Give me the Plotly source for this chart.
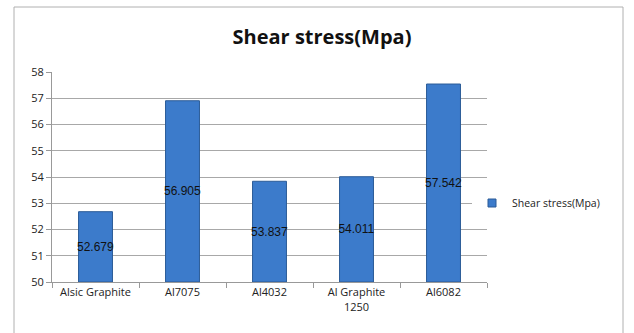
import plotly.graph_objects as go

categories = ["Alsic Graphite", "Al7075", "Al4032", "Al Graphite<br>1250", "Al6082"]
values = [52.679, 56.905, 53.837, 54.011, 57.542]
labels = ["52.679", "56.905", "53.837", "54.011", "57.542"]
series_name = "Shear stress(Mpa)"
y_ticks = [50, 51, 52, 53, 54, 55, 56, 57, 58]

W, H = 634, 333
L, R, T, B = 52, 147, 72, 51
pw, ph = W - L - R, H - T - B

fig = go.Figure()
fig.add_trace(go.Bar(
    x=categories, y=[v - 50 for v in values], base=50,
    name=series_name, text=labels, textposition="inside", textangle=0,
    insidetextanchor="middle",
    textfont=dict(family="Liberation Sans", size=12, color="#111111"),
    marker=dict(color="#3c7bcb", line=dict(color="#2b5b97", width=1)),
    width=0.39, showlegend=False,
))
# legend entry with small square swatch
fig.add_trace(go.Scatter(
    x=[categories[0]], y=[None], mode="markers", name=series_name,
    marker=dict(symbol="square", size=8, color="#3c7bcb",
                line=dict(color="#2b5b97", width=1)),
    showlegend=True, hoverinfo="skip",
))

fig.add_shape(type="rect", xref="paper", yref="paper",
              x0=(14 - L) / pw, x1=(623 - L) / pw,
              y0=(H - B - 340) / ph, y1=(H - B - 7) / ph,
              line=dict(color="#b0b0b0", width=1), layer="below")

fig.update_layout(
    width=W, height=H,
    margin=dict(l=L, r=R, t=T, b=B, autoexpand=False),
    paper_bgcolor="white", plot_bgcolor="white",
    uniformtext=dict(minsize=12, mode="show"),
    title=dict(text="<b>Shear stress(Mpa)</b>", x=(322) / W, xanchor="center",
               y=1 - 37 / H, yanchor="middle",
               font=dict(family="Open Sans", size=20, color="#111111")),
    font=dict(family="Open Sans", size=11, color="#222222"),
    legend=dict(x=(472 - L) / pw, y=(H - B - 203) / ph, xanchor="left", yanchor="middle",
                font=dict(family="Open Sans", size=10.5, color="#222222"),
                itemwidth=30, tracegroupgap=0),
    xaxis=dict(showline=True, linecolor="#999999", ticks="outside", ticklen=5,
               tickcolor="#999999", tickson="boundaries", showgrid=False,
               automargin=False,
               tickfont=dict(size=11, color="#222222")),
    yaxis=dict(range=[50, 58], tickvals=y_ticks, showline=True, linecolor="#999999",
               ticks="outside", ticklen=5, tickcolor="#999999",
               gridcolor="#a8a8a8", gridwidth=1, automargin=False,
               tickfont=dict(size=11, color="#222222")),
)

fig.write_html("out.html", config={"displayModeBar": False},
               post_script="document.body.style.margin='0px';")
